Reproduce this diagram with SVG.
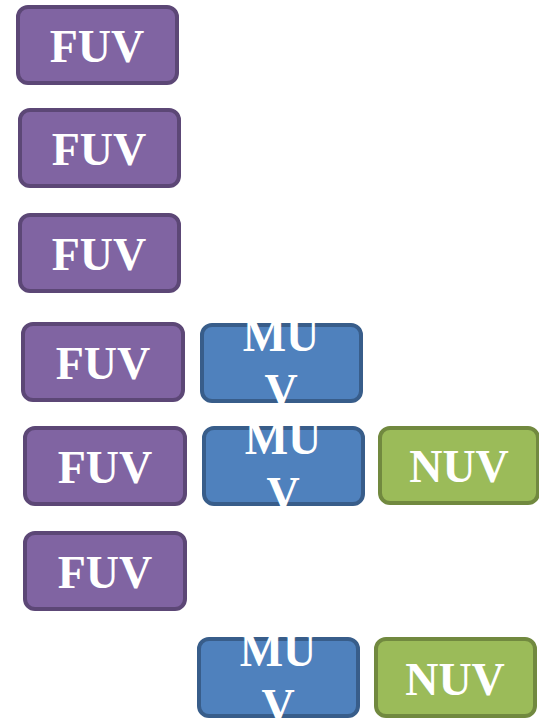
<svg xmlns="http://www.w3.org/2000/svg" width="539" height="721" viewBox="0 0 539 721">
<style>
rect{stroke-width:4}
.f rect{fill:#8064A2;stroke:#5C4776}
.m rect{fill:#4F81BD;stroke:#385D8A}
.n rect{fill:#9BBB59;stroke:#71893F}
text{font-family:"Times New Roman",Times,"Liberation Serif",serif;font-weight:700;font-size:46px;fill:#fff;text-anchor:middle}
</style>
<rect width="539" height="721" fill="#fff" style="stroke:none"/>
<g id="fuv1" class="f"><rect x="18" y="7" width="159" height="76" rx="10"/><text x="97" y="62">FUV</text></g>
<g id="fuv2" class="f"><rect x="20" y="110" width="159" height="76" rx="10"/><text x="99" y="165">FUV</text></g>
<g id="fuv3" class="f"><rect x="20" y="215" width="159" height="76" rx="10"/><text x="99" y="270">FUV</text></g>
<g id="fuv4" class="f"><rect x="23" y="324" width="160" height="76" rx="10"/><text x="103" y="379">FUV</text></g>
<g id="fuv5" class="f"><rect x="25" y="428" width="160" height="76" rx="10"/><text x="105" y="483">FUV</text></g>
<g id="fuv6" class="f"><rect x="25" y="533" width="160" height="76" rx="10"/><text x="105" y="588">FUV</text></g>
<g id="muv1" class="m"><rect x="202" y="325" width="159" height="76" rx="10"/><text x="281" y="351">MU</text><text x="281" y="406">V</text></g>
<g id="muv2" class="m"><rect x="204" y="428" width="159" height="76" rx="10"/><text x="283" y="454">MU</text><text x="283" y="509">V</text></g>
<g id="nuv1" class="n"><rect x="380" y="428" width="158" height="75" rx="10"/><text x="459" y="482">NUV</text></g>
<g id="muv3" class="m"><rect x="199" y="639" width="159" height="77" rx="10"/><text x="278" y="666">MU</text><text x="278" y="721">V</text></g>
<g id="nuv2" class="n"><rect x="376" y="639" width="159" height="77" rx="10"/><text x="455" y="695">NUV</text></g>
<g id="connectors"></g>
</svg>
